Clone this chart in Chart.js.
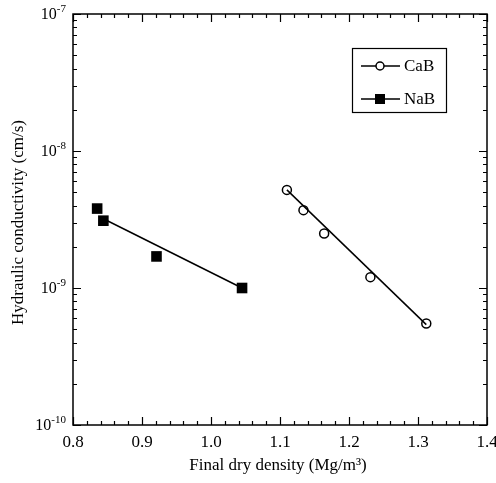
<!DOCTYPE html>
<html>
<head>
<meta charset="utf-8">
<script src="https://cdn.jsdelivr.net/npm/chart.js@4.4.1/dist/chart.umd.min.js"></script>
<style>
  html, body { margin: 0; padding: 0; background: #fff; }
  #wrap { width: 496px; height: 483px; }
</style>
</head>
<body>
<div id="wrap"><canvas id="myChart" width="496" height="483"></canvas></div>
<script>
// data
const cabDensity = [1.110, 1.134, 1.164, 1.231, 1.312];
const cabK = [5.2e-9, 3.7e-9, 2.5e-9, 1.2e-9, 5.5e-10];
const nabDensity = [0.835, 0.844, 0.921, 1.045];
const nabK = [3.8e-9, 3.1e-9, 1.7e-9, 1.0e-9];
// fitted lines
const cabFitX = [1.110, 1.312];
const cabFitK = [5.2e-9, 5.4e-10];
const nabFitX = [0.844, 1.045];
const nabFitK = [3.2e-9, 1.0e-9];
// axes
const xTicks = [0.8, 0.9, 1.0, 1.1, 1.2, 1.3, 1.4];
const yExps = [-7, -8, -9, -10];

const FONT = '"Liberation Serif", "DejaVu Serif", serif';

function toPts(xs, ys) {
  return xs.map((x, i) => ({ x: x, y: ys[i] }));
}

// frame, inward ticks, labels, titles, legend
const decor = {
  id: "decor",
  afterDraw(chart) {
    const ctx = chart.ctx;
    const a = chart.chartArea;
    const xs = chart.scales.x;
    const ys = chart.scales.y;
    ctx.save();
    ctx.strokeStyle = "#000";
    ctx.fillStyle = "#000";
    ctx.lineWidth = 1.5;
    ctx.strokeRect(a.left, a.top, a.right - a.left, a.bottom - a.top);

    ctx.lineWidth = 1.2;
    ctx.beginPath();
    // x ticks every 0.02, major every 0.1
    for (let i = 0; i <= 30; i++) {
      const v = 0.8 + i * 0.02;
      const px = Math.round(xs.getPixelForValue(v)) + 0.5;
      const len = i % 5 == 0 ? 8 : 4;
      ctx.moveTo(px, a.bottom);
      ctx.lineTo(px, a.bottom - len);
      ctx.moveTo(px, a.top);
      ctx.lineTo(px, a.top + len);
    }
    // y ticks log
    for (let e = -10; e <= -7; e++) {
      for (let m = 1; m <= 9; m++) {
        if (e == -7 && m > 1) break;
        const v = m * Math.pow(10, e);
        const py = Math.round(ys.getPixelForValue(v)) + 0.5;
        const len = m == 1 ? 8 : 4;
        ctx.moveTo(a.left, py);
        ctx.lineTo(a.left + len, py);
        ctx.moveTo(a.right, py);
        ctx.lineTo(a.right - len, py);
      }
    }
    ctx.stroke();

    // x tick labels
    ctx.font = "17px " + FONT;
    ctx.textAlign = "center";
    ctx.textBaseline = "top";
    xTicks.forEach((v) => {
      ctx.fillText(v.toFixed(1), xs.getPixelForValue(v), a.bottom + 9);
    });

    // y tick labels 10^e
    yExps.forEach((e) => {
      const py = ys.getPixelForValue(Math.pow(10, e));
      ctx.font = "11px " + FONT;
      const sup = String(e);
      const sw = ctx.measureText(sup).width;
      ctx.textAlign = "left";
      ctx.textBaseline = "alphabetic";
      const right = a.left - 7;
      ctx.fillText(sup, right - sw, py - 2);
      ctx.font = "16px " + FONT;
      const bw = ctx.measureText("10").width;
      ctx.fillText("10", right - sw - bw, py + 5);
    });

    // axis titles
    ctx.font = "17px " + FONT;
    ctx.textAlign = "center";
    ctx.textBaseline = "middle";
    ctx.fillText("Final dry density (Mg/m\u00B3)", 278, 466);
    ctx.save();
    ctx.translate(19, (a.top + a.bottom) / 2 + 3);
    ctx.rotate(-Math.PI / 2);
    ctx.fillText("Hydraulic conductivity (cm/s)", 0, 0);
    ctx.restore();

    // legend box
    ctx.lineWidth = 1.2;
    ctx.strokeRect(352.5, 48.5, 94, 64);
    ctx.lineWidth = 1.5;
    ctx.beginPath();
    ctx.moveTo(361, 66);
    ctx.lineTo(400, 66);
    ctx.moveTo(361, 99);
    ctx.lineTo(400, 99);
    ctx.stroke();
    ctx.beginPath();
    ctx.fillStyle = "#fff";
    ctx.arc(380, 66, 4, 0, Math.PI * 2);
    ctx.fill();
    ctx.stroke();
    ctx.fillStyle = "#000";
    ctx.fillRect(375, 94, 10, 10);
    ctx.font = "17px " + FONT;
    ctx.textAlign = "left";
    ctx.textBaseline = "middle";
    ctx.fillText("CaB", 404, 67);
    ctx.fillText("NaB", 404, 100);
    ctx.restore();
  },
};

const ctx = document.getElementById("myChart");
new Chart(ctx, {
  type: "scatter",
  data: {
    datasets: [
      {
        label: "CaB fit",
        data: toPts(cabFitX, cabFitK),
        showLine: true,
        borderColor: "#000",
        borderWidth: 1.5,
        pointRadius: 0,
      },
      {
        label: "NaB fit",
        data: toPts(nabFitX, nabFitK),
        showLine: true,
        borderColor: "#000",
        borderWidth: 1.5,
        pointRadius: 0,
      },
      {
        label: "CaB",
        data: toPts(cabDensity, cabK),
        pointStyle: "circle",
        pointRadius: 4.5,
        pointBorderWidth: 1.5,
        pointBorderColor: "#000",
        pointBackgroundColor: "rgba(255,255,255,0)",
      },
      {
        label: "NaB",
        data: toPts(nabDensity, nabK),
        pointStyle: "rect",
        pointRadius: 7.5,
        pointBorderWidth: 0,
        pointBorderColor: "#000",
        pointBackgroundColor: "#000",
      },
    ],
  },
  options: {
    responsive: false,
    animation: false,
    layout: { padding: { top: 14, right: 9, left: 0, bottom: 0 } },
    plugins: { legend: { display: false }, tooltip: { enabled: false } },
    scales: {
      x: {
        type: "linear",
        min: 0.8,
        max: 1.4,
        grid: { display: false },
        border: { display: false },
        ticks: { display: false },
        afterFit: (s) => { s.height = 58; },
      },
      y: {
        type: "logarithmic",
        min: 1e-10,
        max: 1e-7,
        grid: { display: false },
        border: { display: false },
        ticks: { display: false },
        afterFit: (s) => { s.width = 73; },
      },
    },
  },
  plugins: [decor],
});
</script>
</body>
</html>
